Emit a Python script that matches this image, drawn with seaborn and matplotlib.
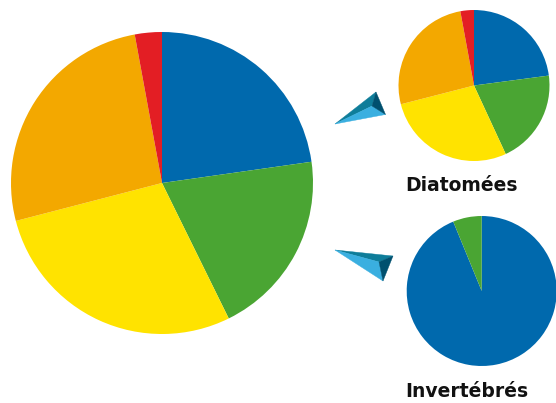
import matplotlib
matplotlib.use("Agg")
import matplotlib.pyplot as plt
from matplotlib.patches import Polygon
import seaborn as sns

# === Data ===
groups = ["Groupe 1", "Groupe 2", "Groupe 3", "Groupe 4", "Groupe 5"]
total_values = [22.8, 20.0, 28.3, 26.2, 2.9]
diatom_values = [22.9, 20.2, 27.9, 26.1, 2.9]
invert_groups = ["Groupe 1", "Groupe 2"]
invert_values = [93.8, 6.2]
panel_titles = ["Diatomées", "Invertébrés"]

palette = ["#0069ad", "#4aa533", "#ffe300", "#f3a800", "#e31e24"]
arrow_cols = {"top": "#0e7d9a", "light": "#3aafe0", "dark": "#00506f"}

W, H = 556, 403

sns.set_style("white")
fig = plt.figure(figsize=(W / 100, H / 100), dpi=100)


def px_axes(cx, cy, r):
    """Axes box from a circle given in pixels (y from top)."""
    return fig.add_axes([(cx - r) / W, (H - cy - r) / H, 2 * r / W, 2 * r / H])


def draw_pie(ax, values):
    ax.pie(
        values,
        colors=palette[: len(values)],
        startangle=90,
        counterclock=False,
        wedgeprops=dict(linewidth=0),
    )
    ax.set_xlim(-1, 1)
    ax.set_ylim(-1, 1)
    ax.set_aspect("equal")
    ax.axis("off")


def arrow(tip, a, b, inner):
    def f(p):
        return (p[0] / W, 1 - p[1] / H)

    faces = [
        ([tip, a, inner], arrow_cols["top"]),
        ([tip, inner, b], arrow_cols["light"]),
        ([a, b, inner], arrow_cols["dark"]),
    ]
    for pts, col in faces:
        fig.add_artist(
            Polygon([f(p) for p in pts], closed=True, facecolor=col,
                    edgecolor=col, linewidth=0.3, transform=fig.transFigure)
        )


# === Pies ===
draw_pie(px_axes(162, 183, 151), total_values)
draw_pie(px_axes(474, 85.5, 75.5), diatom_values)
draw_pie(px_axes(481.7, 291, 75), invert_values)

# === Pointers ===
arrow((335, 124), (376, 92), (385.5, 114.5), (372, 106))
arrow((335, 250), (393, 256), (383, 281), (379, 262))

# === Labels ===
fig.text(405 / W, 1 - 191 / H, panel_titles[0], fontsize=13.5,
         fontweight="bold", ha="left", va="baseline", color="#111111")
fig.text(405 / W, 1 - 397 / H, panel_titles[1], fontsize=13.5,
         fontweight="bold", ha="left", va="baseline", color="#111111")

fig.savefig("out.png", dpi=100)
plt.close(fig)
